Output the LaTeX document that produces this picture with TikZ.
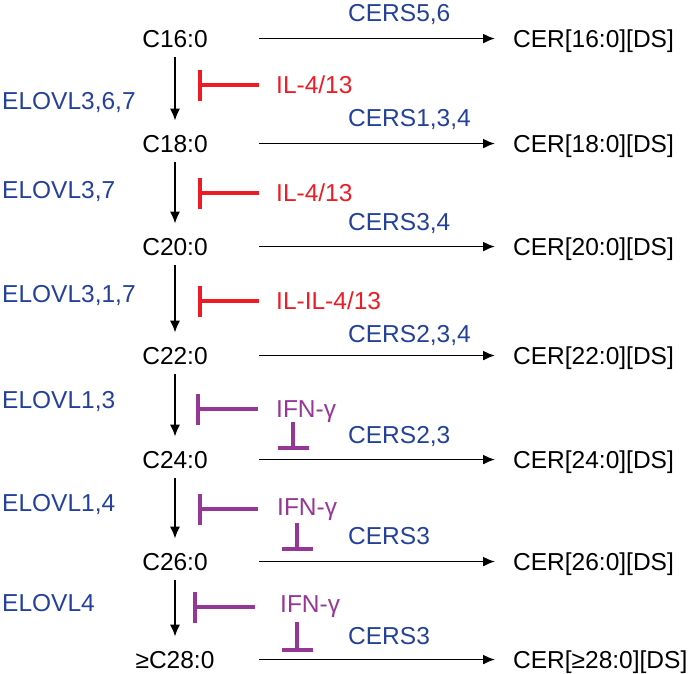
\documentclass[tikz,border=0pt]{standalone}
\usepackage{fontspec}
\setmainfont{Liberation Sans}
\usetikzlibrary{arrows.meta}
\definecolor{enzblue}{RGB}{35,65,155}
\definecolor{ilred}{RGB}{237,28,36}
\definecolor{ifnpurple}{RGB}{150,55,150}
\tikzset{
lipid/.style={anchor=base, inner sep=0pt, minimum width=168pt},
cer/.style={anchor=base west, inner ysep=0pt, inner xsep=18pt},
enz/.style={anchor=base west, inner sep=0pt, text=enzblue},
reg/.style={anchor=base west, inner sep=0pt},
conv/.style={-{Latex[length=12pt,width=10pt]}, line width=1.8pt},
elong/.style={conv, shorten <=10pt, shorten >=14pt},
inhib/.style={-{Bar[width=31pt]}, line width=3.8pt}
}

\begin{document}
\begin{tikzpicture}[x=1pt, y=-1pt, font=\fontsize{24.5}{29}\selectfont]
\useasboundingbox (0,0) rectangle (691,673);

\node[lipid] (c16) at (175,47) {C16:0};
\node[lipid] (c18) at (175,152) {C18:0};
\node[lipid] (c20) at (175,255) {C20:0};
\node[lipid] (c22) at (175,364) {C22:0};
\node[lipid] (c24) at (175,468) {C24:0};
\node[lipid] (c26) at (175,570) {C26:0};
\node[lipid] (c28) at (175,668) {≥C28:0};

\node[cer] (cer16) at (495,47) {CER[16:0][DS]};
\node[cer] (cer18) at (495,152) {CER[18:0][DS]};
\node[cer] (cer20) at (495,255) {CER[20:0][DS]};
\node[cer] (cer22) at (495,364) {CER[22:0][DS]};
\node[cer] (cer24) at (495,468) {CER[24:0][DS]};
\node[cer] (cer26) at (495,570) {CER[26:0][DS]};
\node[cer] (cer28) at (495,668) {CER[≥28:0][DS]};

\node[enz] (cers16) at (348,21) {CERS5,6};
\node[enz] (cers18) at (348,126) {CERS1,3,4};
\node[enz] (cers20) at (348,230) {CERS3,4};
\node[enz] (cers22) at (348,342) {CERS2,3,4};
\node[enz] (cers24) at (348,443) {CERS2,3};
\node[enz] (cers26) at (348,544) {CERS3};
\node[enz] (cers28) at (348,644) {CERS3};

\node[enz] (elovl1) at (2,109) {ELOVL3,6,7};
\node[enz] (elovl2) at (2,198) {ELOVL3,7};
\node[enz] (elovl3) at (2,302) {ELOVL3,1,7};
\node[enz] (elovl4) at (2,408) {ELOVL1,3};
\node[enz] (elovl5) at (2,511) {ELOVL1,4};
\node[enz] (elovl6) at (2,611) {ELOVL4};

\node[reg, text=ilred] (il1) at (276,93) {IL-4/13};
\node[reg, text=ilred] (il2) at (276,201) {IL-4/13};
\node[reg, text=ilred] (il3) at (276,309) {IL-IL-4/13};
\node[reg, text=ifnpurple] (ifn1) at (276,417) {IFN-γ};
\node[reg, text=ifnpurple] (ifn2) at (277,515) {IFN-γ};
\node[reg, text=ifnpurple] (ifn3) at (280,612) {IFN-γ};

\draw[conv] (c16.east) -- (c16.east -| cer16.west);
\draw[conv] (c18.east) -- (c18.east -| cer18.west);
\draw[conv] (c20.east) -- (c20.east -| cer20.west);
\draw[conv] (c22.east) -- (c22.east -| cer22.west);
\draw[conv] (c24.east) -- (c24.east -| cer24.west);
\draw[conv] (c26.east) -- (c26.east -| cer26.west);
\draw[conv] (c28.east) -- (c28.east -| cer28.west);

\draw[elong] (c16.south) -- (c18.north);
\draw[elong] (c18.south) -- (c20.north);
\draw[elong] (c20.south) -- (c22.north);
\draw[elong] (c22.south) -- (c24.north);
\draw[elong] (c24.south) -- (c26.north);
\draw[elong] (c26.south) -- (c28.north);

\draw[inhib, ilred] (il1.base west) ++(-17,-8) -- ++(-61,0);
\draw[inhib, ilred] (il2.base west) ++(-17,-8) -- ++(-61,0);
\draw[inhib, ilred] (il3.base west) ++(-17,-8) -- ++(-61,0);
\draw[inhib, ifnpurple] (ifn1.base west) ++(-18,-8) -- ++(-62,0);
\draw[inhib, ifnpurple] (ifn2.base west) ++(-19,-6) -- ++(-60,0);
\draw[inhib, ifnpurple] (ifn3.base west) ++(-25,-5) -- ++(-62,0);

\draw[inhib, ifnpurple] (ifn1.base west) ++(17,5) -- ++(0,28);
\draw[inhib, ifnpurple] (ifn2.base west) ++(20,8) -- ++(0,28);
\draw[inhib, ifnpurple] (ifn3.base west) ++(17,10) -- ++(0,30);
\end{tikzpicture}
\end{document}
